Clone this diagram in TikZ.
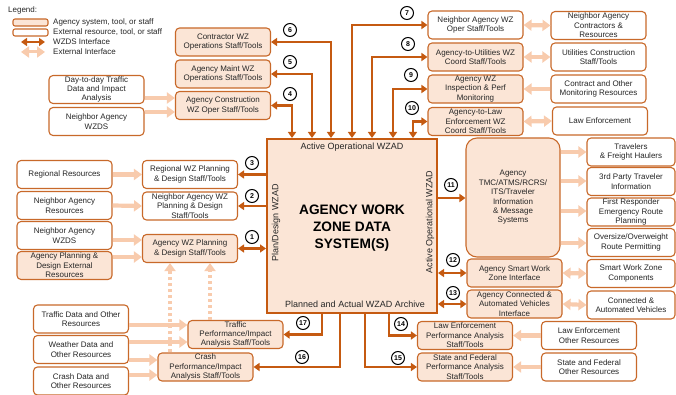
\documentclass[tikz,border=0pt]{standalone}
\usepackage{fontspec}
\setmainfont{Liberation Sans}
\usetikzlibrary{arrows.meta,calc}
\definecolor{dk}{HTML}{C55A11}
\definecolor{bd}{HTML}{C8692A}
\definecolor{ag}{HTML}{FBE5D6}
\definecolor{lt}{HTML}{F8CBAD}
\definecolor{tx}{HTML}{262626}
\begin{document}
\begin{tikzpicture}[x=1pt,y=-1pt,
 box/.style={draw=bd, line width=1.1pt, rounded corners=4pt, align=center, inner sep=0.5pt, font=\fontsize{8}{9.4}\selectfont, text=tx, minimum width=95pt, minimum height=28pt},
 agency/.style={box, fill=ag},
 ext/.style={box, fill=white},
 wz/.style={draw=dk, line width=2.6pt, -{Triangle[length=6pt,width=8pt]}},
 wzb/.style={wz, {Triangle[length=6pt,width=8pt]}-{Triangle[length=6pt,width=8pt]}},
 li/.style={draw=lt, line width=4.2pt, -{Triangle[length=8pt,width=11pt]}},
 lib/.style={li, {Triangle[length=8pt,width=11pt]}-{Triangle[length=8pt,width=11pt]}},
 dot/.style={li, dash pattern=on 3pt off 3pt},
 num/.style={circle, draw=black, line width=1pt, fill=white, minimum size=13pt, inner sep=0pt, font=\fontsize{7}{7}\selectfont\bfseries},
 lab/.style={font=\fontsize{9}{9}\selectfont, text=tx, inner sep=0pt},
 leg/.style={font=\fontsize{8}{8}\selectfont, text=tx, inner sep=0pt, anchor=west}
]
\useasboundingbox (0,0) rectangle (676,395);

% legend
\node[leg] (legend) at (8,10) {Legend:};
\node[agency, minimum width=35pt, minimum height=7pt, rounded corners=2pt] (lga) at (30.5,22.5) {};
\node[ext, minimum width=35pt, minimum height=7pt, rounded corners=2pt] (lge) at (30.5,32.5) {};
\node[leg] (lgat) at (53,22.5) {Agency system, tool, or staff};
\node[leg] (lget) at (53,32.5) {External resource, tool, or staff};
\node[leg] (lgwt) at (53,42) {WZDS Interface};
\node[leg] (lglt) at (53,52) {External Interface};
\coordinate (lw1) at (21,42); \coordinate (lw2) at (45,42);
\coordinate (ll1) at (21,52); \coordinate (ll2) at (45,52);
\draw[wzb, line width=2pt] (lw1) -- (lw2);
\draw[lib, line width=3pt] (ll1) -- (ll2);

% main box
\node[draw=dk, line width=2pt, fill=ag, minimum width=170pt, minimum height=174pt, inner sep=0pt] (main) at (352,226) {};
\node[lab] (lblA) at (352,147) {Active Operational WZAD};
\node[lab, rotate=90] (lblP) at (276,223) {Plan/Design WZAD};
\node[lab, rotate=90] (lblO) at (430,222) {Active Operational WZAD};
\node[lab] (lblR) at (355,304) {Planned and Actual WZAD Archive};
\node[font=\fontsize{13.7}{17}\selectfont\bfseries, align=center, text=black, inner sep=0pt] (title) at (352,228) {AGENCY WORK\\ZONE DATA\\SYSTEM(S)};

% top left
\node[ext] (day) at (96.5,89.5) {Day-to-day Traffic\\Data and Impact\\Analysis};
\node[ext] (nwzds1) at (96.5,121.5) {Neighbor Agency\\WZDS};
\node[agency] (contractor) at (223,42) {Contractor WZ\\Operations Staff/Tools};
\node[agency] (maint) at (223,74) {Agency Maint WZ\\Operations Staff/Tools};
\node[agency] (constr) at (223,105.5) {Agency Construction\\WZ Oper Staff/Tools};

% top right
\node[ext] (nbop) at (475.5,25) {Neighbor Agency WZ\\Oper Staff/Tools};
\node[agency] (util) at (475.5,57) {Agency-to-Utilities WZ\\Coord Staff/Tools};
\node[agency] (insp) at (475.5,89) {Agency WZ\\Inspection \& Perf\\Monitoring};
\node[agency] (law) at (475.5,121.5) {Agency-to-Law\\Enforcement WZ\\Coord Staff/Tools};
\node[ext] (nbcon) at (598.5,25.5) {Neighbor Agency\\Contractors \&\\Resources};
\node[ext] (utilc) at (598.5,57) {Utilities Construction\\Staff/Tools};
\node[ext] (monit) at (598.5,89) {Contract and Other\\Monitoring Resources};
\node[ext] (lawe) at (600,121) {Law Enforcement};

% left
\node[ext] (regional) at (64.5,174.5) {Regional Resources};
\node[ext] (nbres) at (64.5,205.5) {Neighbor Agency\\Resources};
\node[ext] (nbwzds2) at (64.5,235.5) {Neighbor Agency\\WZDS};
\node[agency] (apd) at (64.5,265.5) {Agency Planning \&\\Design External\\Resources};
\node[ext] (regwz) at (190,174.5) {Regional WZ Planning\\\& Design Staff/Tools};
\node[ext] (nbplan) at (190,206) {Neighbor Agency WZ\\Planning \& Design\\Staff/Tools};
\node[agency] (awzp) at (190,248.5) {Agency WZ Planning\\\& Design Staff/Tools};

% bottom left
\node[ext] (trd) at (81,319) {Traffic Data and Other\\Resources};
\node[ext] (wea) at (81,349.5) {Weather Data and\\Other Resources};
\node[ext] (crd) at (81,381) {Crash Data and\\Other Resources};
\node[agency] (tperf) at (235.5,334.5) {Traffic\\Performance/Impact\\Analysis Staff/Tools};
\node[agency] (cperf) at (205.5,367) {Crash\\Performance/Impact\\Analysis Staff/Tools};

% bottom right
\node[agency] (leperf) at (465,335.5) {Law Enforcement\\Performance Analysis\\Staff/Tools};
\node[agency] (sfperf) at (465,367) {State and Federal\\Performance Analysis\\Staff/Tools};
\node[ext] (leo) at (589,335.5) {Law Enforcement\\Other Resources};
\node[ext] (sfo) at (589,367) {State and Federal\\Other Resources};

% right
\node[agency, rounded corners=11pt, minimum width=94pt, minimum height=119pt] (tmc) at (513,197.5) {Agency\\TMC/ATMS/RCRS/\\ITS/Traveler\\Information\\\& Message\\Systems};
\node[ext, minimum width=88pt] (trav) at (631,152) {Travelers\\\& Freight Haulers};
\node[ext, minimum width=88pt] (third) at (631,181.5) {3rd Party Traveler\\Information};
\node[ext, minimum width=88pt] (frst) at (631,212) {First Responder\\Emergency Route\\Planning};
\node[ext, minimum width=88pt] (osow) at (631,242.5) {Oversize/Overweight\\Route Permitting};
\node[agency] (swz) at (514.5,273) {Agency Smart Work\\Zone Interface};
\node[ext, minimum width=88pt] (swzc) at (631,273.5) {Smart Work Zone\\Components};
\node[agency] (cav) at (514.5,304) {Agency Connected \&\\Automated Vehicles\\Interface};
\node[ext, minimum width=88pt] (cavx) at (631,305) {Connected \&\\Automated Vehicles};

% external (light) interfaces
\draw[li] (day.east |- 0,98) -- (constr.west |- 0,98);
\draw[li] (nwzds1.east |- 0,112) -- (constr.west |- 0,112);
\draw[lib] (nbop.east) -- (nbcon.west);
\draw[lib] (util.east) -- (utilc.west);
\draw[li] (monit.west) -- (insp.east);
\draw[lib] (law.east) -- (lawe.west);
\draw[li] (regional.east) -- (regwz.west);
\draw[li] (nbres.east) -- (nbplan.west);
\draw[li] (nbwzds2.east |- 0,240) -- (awzp.west |- 0,240);
\draw[li] (apd.east |- 0,257) -- (awzp.west |- 0,257);
\draw[dot] (cperf.north -| 170,0) -- (awzp.south -| 170,0);
\draw[dot] (tperf.north -| 210,0) -- (awzp.south -| 210,0);
\draw[li] (trd.east |- 0,325) -- (tperf.west |- 0,325);
\draw[li] (wea.east |- 0,342) -- (tperf.west |- 0,342);
\draw[li] (wea.east |- 0,360) -- (cperf.west |- 0,360);
\draw[li] (crd.east |- 0,375) -- (cperf.west |- 0,375);
\draw[li] (leo.west) -- (leperf.east);
\draw[li] (sfo.west) -- (sfperf.east);
\draw[li] (tmc.east |- 0,152) -- (trav.west |- 0,152);
\draw[li] (tmc.east |- 0,181) -- (third.west |- 0,181);
\draw[li] (tmc.east |- 0,211) -- (frst.west |- 0,211);
\draw[li] (tmc.east |- 0,243) -- (osow.west |- 0,243);
\draw[lib] (swz.east) -- (swzc.west);
\draw[lib] (cav.east) -- (cavx.west);

% WZDS interfaces
\draw[wzb] (main.north -| 292,0) |- (constr.east);
\draw[wzb] (main.north -| 312,0) |- (maint.east);
\draw[wzb] (main.north -| 331,0) |- (contractor.east);
\draw[wzb] (main.north -| 352,0) |- (nbop.west);
\draw[wzb] (main.north -| 372,0) |- (util.west);
\draw[wzb] (main.north -| 393,0) |- (insp.west);
\draw[wzb] (main.north -| 413,0) |- (law.west);
\draw[wz] (main.west |- regwz.east) -- (regwz.east);
\draw[wz] (main.west |- nbplan.east) -- (nbplan.east);
\draw[wzb] (main.west |- awzp.east) -- (awzp.east);
\draw[wz] (main.east |- 0,198) -- (tmc.west |- 0,198);
\draw[wzb] (main.east |- swz.west) -- (swz.west);
\draw[wzb] (main.east |- cav.west) -- (cav.west);
\draw[wz] (main.south -| 389,0) |- (leperf.west);
\draw[wz] (main.south -| 365,0) |- (sfperf.west);
\draw[wz] (main.south -| 340,0) |- (cperf.east);
\draw[wz] (main.south -| 322,0) |- (tperf.east);

% numbers
\node[num] (n1) at (252,237) {1};
\node[num] (n2) at (252,196) {2};
\node[num] (n3) at (252,163) {3};
\node[num] (n4) at (290,94) {4};
\node[num] (n5) at (290,62) {5};
\node[num] (n6) at (290,30) {6};
\node[num] (n7) at (407,13) {7};
\node[num] (n8) at (408,44) {8};
\node[num] (n9) at (411,75) {9};
\node[num] (n10) at (412,108) {10};
\node[num] (n11) at (451,185) {11};
\node[num] (n12) at (453,260) {12};
\node[num] (n13) at (453,293) {13};
\node[num] (n14) at (401,324) {14};
\node[num] (n15) at (398,358) {15};
\node[num] (n16) at (302,357) {16};
\node[num] (n17) at (303,323) {17};
\end{tikzpicture}
\end{document}
